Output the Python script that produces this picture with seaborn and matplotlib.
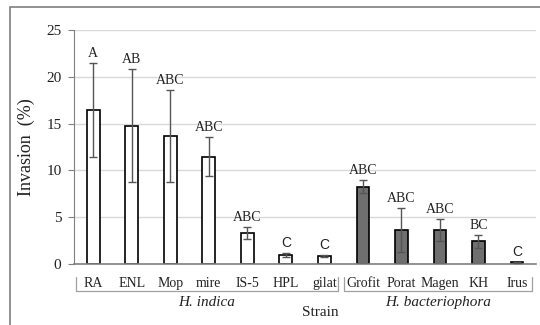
import matplotlib
matplotlib.use("Agg")
import matplotlib.pyplot as plt
import seaborn as sns
import pandas as pd
from matplotlib.patches import Rectangle

strains = ["RA", "ENL", "Mop", "mire", "IS-5", "HPL", "gilat",
           "Grofit", "Porat", "Magen", "KH", "Irus"]
species = ["H. indica"] * 7 + ["H. bacteriophora"] * 5
invasion = [16.45, 14.75, 13.65, 11.45, 3.3, 0.95, 0.85,
            8.25, 3.6, 3.6, 2.4, 0.15]
errors = [5.0, 6.05, 4.9, 2.1, 0.62, 0.25, 0.12,
          0.7, 2.35, 1.2, 0.72, 0.05]
letters = ["A", "AB", "ABC", "ABC", "ABC", "C", "C",
           "ABC", "ABC", "ABC", "BC", "C"]

df = pd.DataFrame({"Strain": strains, "Species": species, "Invasion": invasion})

sns.set_style("white")
plt.rcParams["font.family"] = ["Liberation Serif", "DejaVu Serif"]

fig = plt.figure(figsize=(5.4, 3.25), dpi=100)
ax = fig.add_axes([0.137, 0.188, 0.856, 0.72])

palette = {"H. indica": "white", "H. bacteriophora": "#6f6f6f"}
sns.barplot(data=df, x="Strain", y="Invasion", hue="Species", palette=palette,
            dodge=False, width=0.33, edgecolor="black", linewidth=1.2,
            legend=False, ax=ax, errorbar=None)

xs = list(range(len(strains)))
ax.errorbar(xs, invasion, yerr=errors, fmt="none", ecolor="#555555",
            elinewidth=1.0, capsize=3, capthick=1.0, zorder=5)

for x, v, e, lab in zip(xs, invasion, errors, letters):
    fam = ["Liberation Sans"] if lab == "C" else ["Liberation Serif"]
    ax.text(x, v + e + 0.3, lab, ha="center", va="bottom", fontsize=10,
            family=fam, color="#222222")

ax.set_ylim(0, 25)
ax.set_xlim(-0.5, len(strains) - 0.5)
ax.set_yticks([0, 5, 10, 15, 20, 25])
ax.yaxis.grid(True, color="#d9d9d9", linewidth=1.0)
ax.set_axisbelow(True)
for s in ["top", "right"]:
    ax.spines[s].set_visible(False)
ax.spines["left"].set_color("#808080")
ax.spines["bottom"].set_color("#808080")
ax.spines["bottom"].set_linewidth(1.2)
ax.tick_params(axis="y", left=True, length=4, color="#808080", labelsize=11,
               labelcolor="#222222", pad=5)
ax.tick_params(axis="x", bottom=False, labelsize=10, labelcolor="#222222", pad=6)
ax.set_xlabel("")
ax.set_ylabel("Invasion  (%)", fontsize=13, color="#222222", labelpad=8)

# Species brackets under the strain labels
trans = ax.get_xaxis_transform()
groups = [("H. indica", -0.45, 6.35), ("H. bacteriophora", 6.5, 11.4)]
for name, x0, x1 in groups:
    ax.plot([x0, x0, x1, x1], [-0.056, -0.115, -0.115, -0.056], transform=trans,
            color="#a0a0a0", linewidth=0.9, clip_on=False)
    ax.text((x0 + x1) / 2, -0.165, name, transform=trans, ha="center", va="center",
            fontsize=11, style="italic", color="#222222")
fig.text(0.593, 0.037, "Strain", ha="center", va="center", fontsize=11,
         color="#222222")

# Outer frame
fig.patches.append(Rectangle((10 / 540, -0.05), 1.1, 1 - 7 / 325 + 0.05,
                             transform=fig.transFigure, fill=False,
                             edgecolor="#7f7f7f", linewidth=1.2))

fig.savefig("out.png", dpi=100)
